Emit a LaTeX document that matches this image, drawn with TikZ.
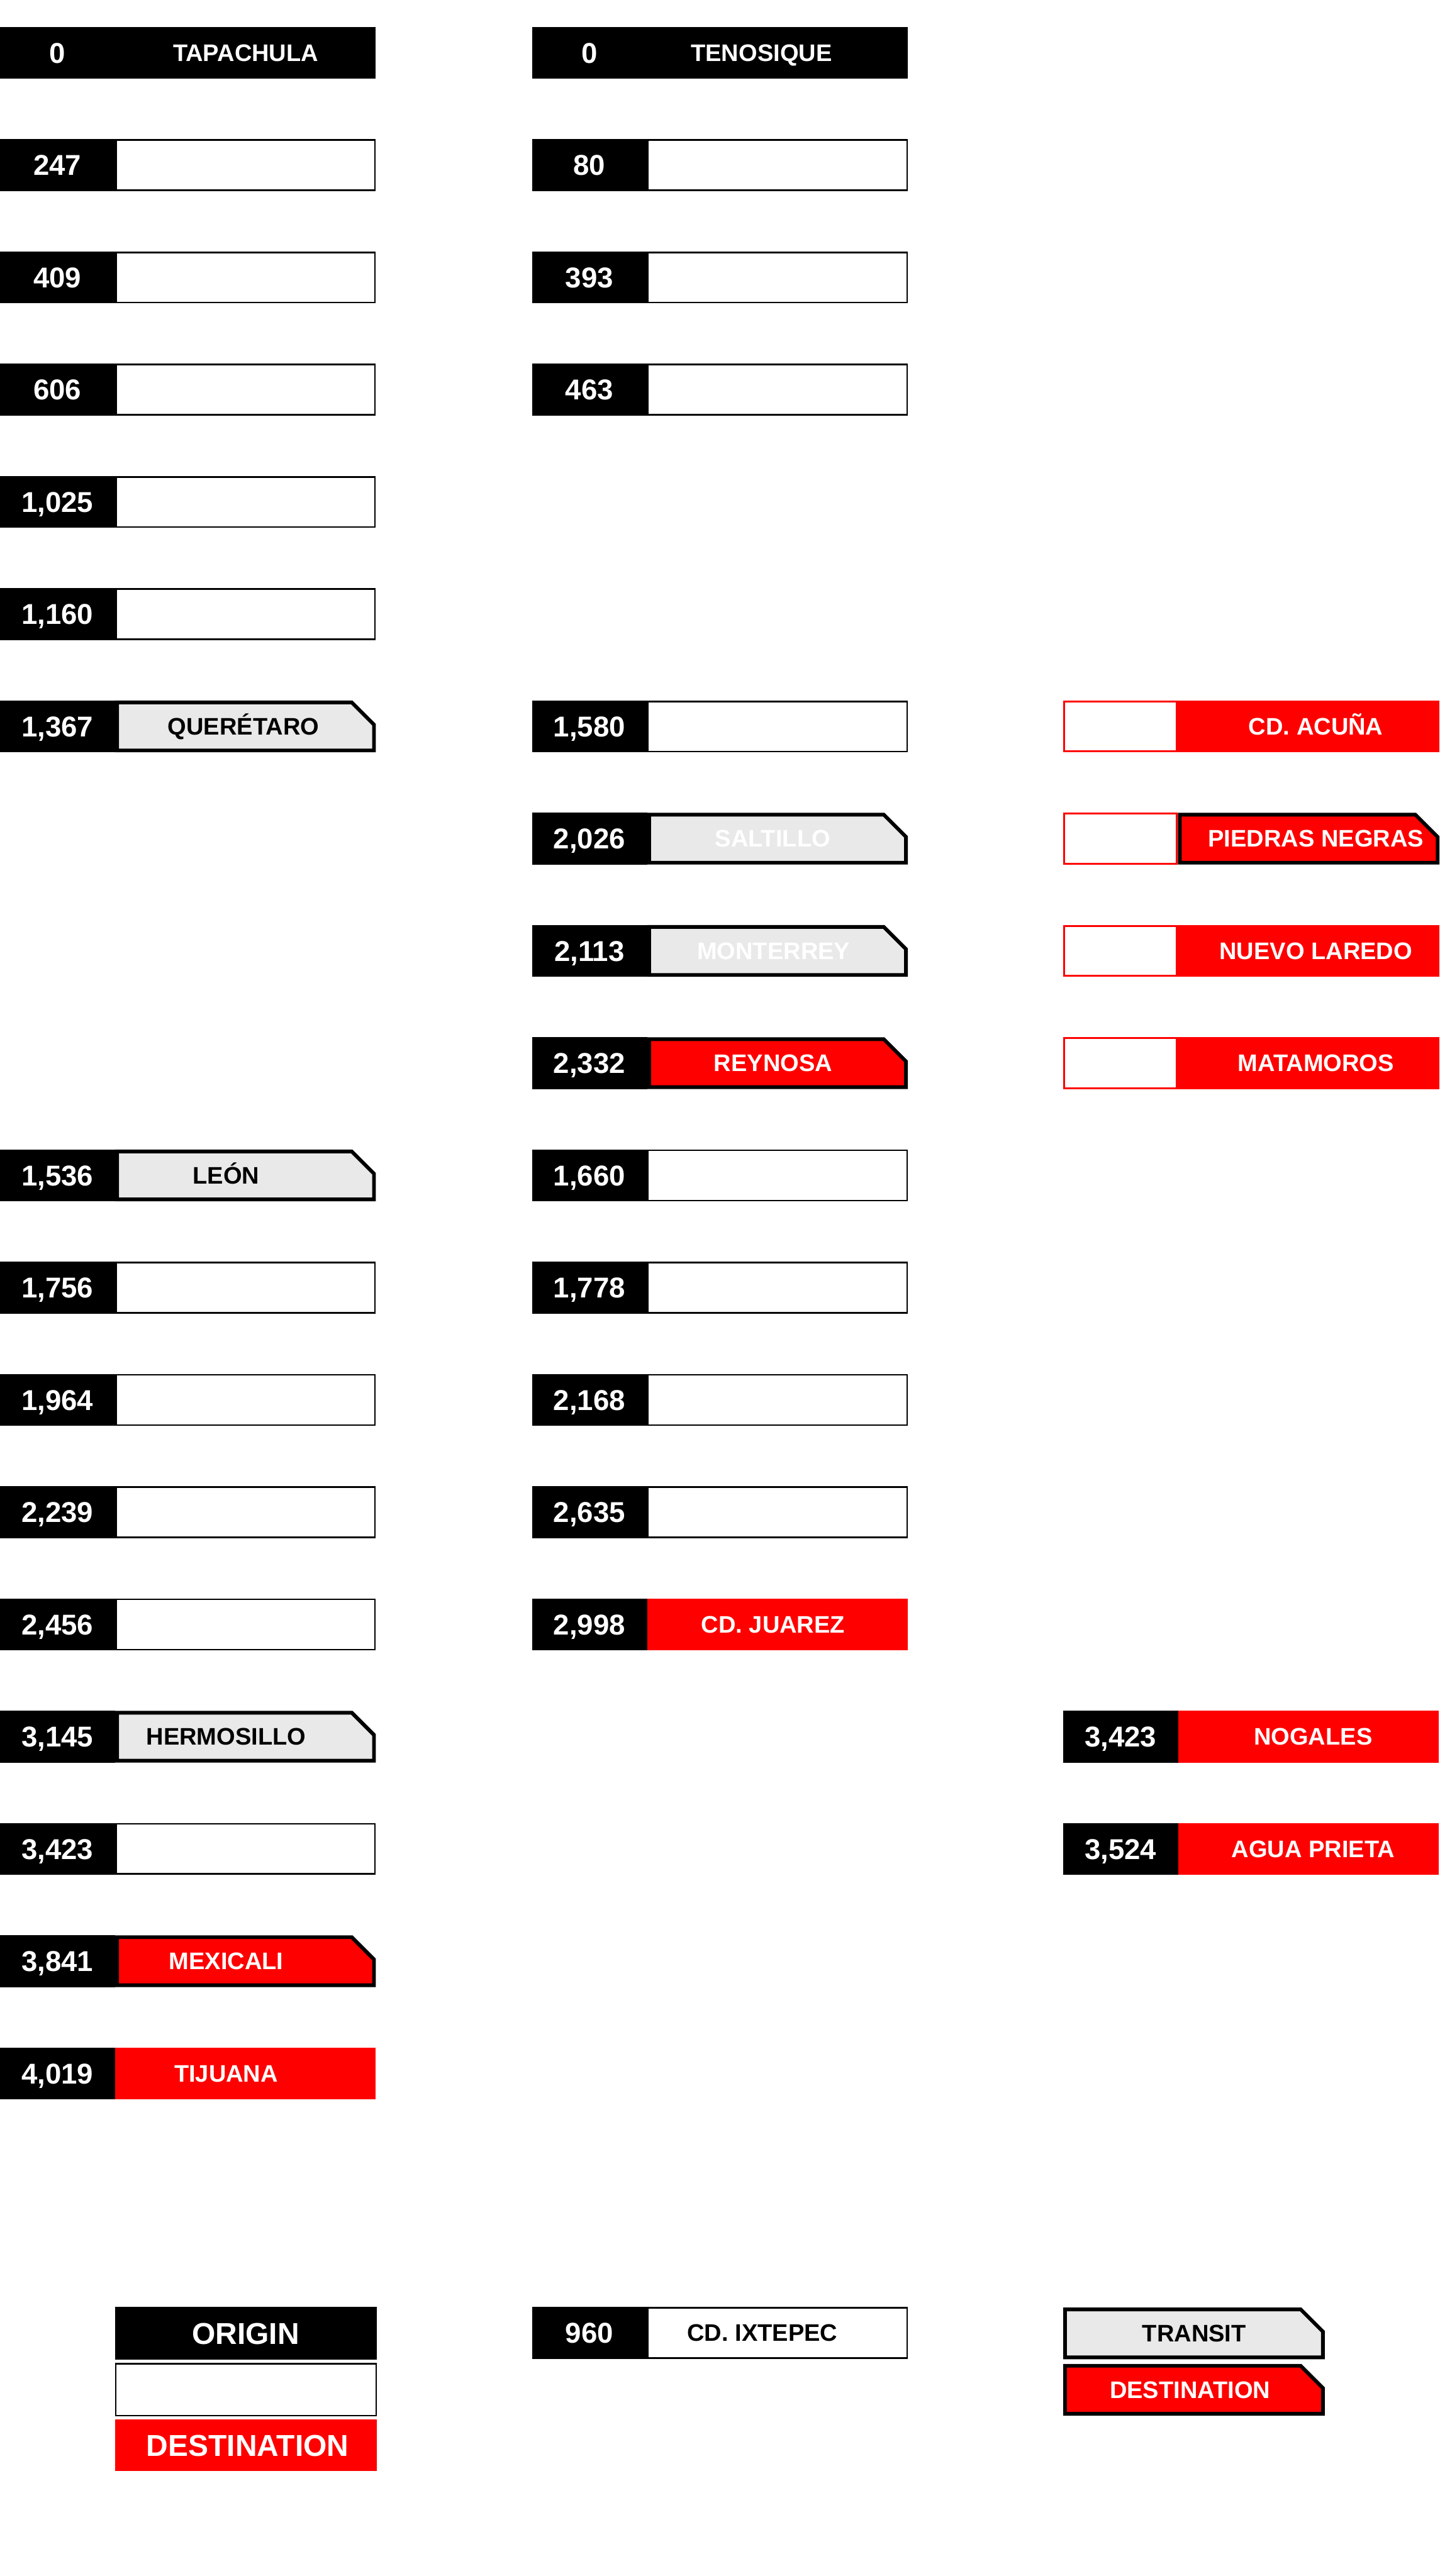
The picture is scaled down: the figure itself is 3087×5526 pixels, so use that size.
\documentclass[tikz,border=0pt]{standalone}
\usepackage{fontspec}
\setmainfont{Liberation Sans}
\definecolor{dred}{HTML}{FF0000}
\definecolor{tgray}{HTML}{E9E9E9}
\newcommand{\fnum}{\bfseries\fontsize{17.5}{18}\selectfont}
\newcommand{\fname}{\bfseries\fontsize{14.6}{15}\selectfont}
\newcommand{\fleg}{\bfseries\fontsize{18.4}{19}\selectfont}
\tikzset{
  numtxt/.style={text=white, font=\fnum, anchor=base, inner sep=0pt},
  nametxt/.style={font=\fname, anchor=base, inner sep=0pt},
  legtxt/.style={font=\fleg, anchor=base, inner sep=0pt},
  thinbox/.style={draw=black, fill=white, line width=0.035cm},
}
% row geometry
\newcommand{\settop}[1]{\pgfmathsetmacro{\rtop}{#1}\pgfmathsetmacro{\rbot}{\rtop+111}%
  \pgfmathsetmacro{\rnb}{\rtop+55.5+22}\pgfmathsetmacro{\rtb}{\rtop+55.5+18}}
\newcommand{\rowy}[1]{\settop{58+240.8*#1}}
\newcommand{\numbox}[3]{%
  \fill[black] (#1,\rtop) rectangle ({#1+247},\rbot);
  \node[numtxt] (#3n) at ({#1+123},\rnb) {#2};}
\newcommand{\plainname}[1]{%
  \draw[thinbox] ({#1+247+1.75},{\rtop+1.75}) rectangle ({#1+806-1.75},{\rbot-1.75});}
\newcommand{\tshape}[4]{%
  \filldraw[fill=#4, draw=black, line width=0.08cm, line join=miter]
    ({#1+4},{#3+4}) -- ({#2-51.66},{#3+4}) -- ({#2-4},{#3+51.66}) --
    ({#2-4},{#3+107}) -- ({#1+4},{#3+107}) -- cycle;}
\newcommand{\OriginRow}[6]{\rowy{#2}%
  \fill[black] (#1,\rtop) rectangle ({#1+806},\rbot);
  \node[numtxt] (#6n) at ({#1+123},\rnb) {#3};
  \node[nametxt, text=white] (#6c) at (#5,\rtb) {#4};}
\newcommand{\PlainRow}[4]{\rowy{#2}\numbox{#1}{#3}{#4}\plainname{#1}}
\newcommand{\TransitRow}[8]{\rowy{#2}\numbox{#1}{#3}{#8}%
  \tshape{#1+247}{#1+806}{\rtop}{#6}
  \node[nametxt, text=#7] (#8c) at (#5,\rtb) {#4};}
\newcommand{\DestRow}[6]{\rowy{#2}\numbox{#1}{#3}{#6}%
  \fill[dred] ({#1+247},\rtop) rectangle ({#1+806},\rbot);
  \node[nametxt, text=white] (#6c) at (#5,\rtb) {#4};}
\newcommand{\BorderRow}[3]{\rowy{#1}%
  \draw[dred, line width=0.04cm] (2282,{\rtop+2}) rectangle (2524,{\rbot-2});
  \fill[dred] (2526,\rtop) rectangle (3087,\rbot);
  \node[nametxt, text=white] (#3c) at (2822,\rtb) {#2};}
\newcommand{\BorderTransitRow}[3]{\rowy{#1}%
  \draw[dred, line width=0.04cm] (2282,{\rtop+2}) rectangle (2524,{\rbot-2});
  \tshape{2526}{3087}{\rtop}{dred}
  \node[nametxt, text=white] (#3c) at (2822,\rtb) {#2};}
\begin{document}
\begin{tikzpicture}[x=0.01cm, y=-0.01cm]
\useasboundingbox (0,0) rectangle (3087,5526);
\fill[white] (0,0) rectangle (3087,5526);
% ---------------- left column
\OriginRow{0}{0}{0}{TAPACHULA}{527}{L0}
\PlainRow{0}{1}{247}{L1}
\PlainRow{0}{2}{409}{L2}
\PlainRow{0}{3}{606}{L3}
\PlainRow{0}{4}{1,025}{L4}
\PlainRow{0}{5}{1,160}{L5}
\TransitRow{0}{6}{1,367}{QUERÉTARO}{522}{tgray}{black}{L6}
\TransitRow{0}{10}{1,536}{LEÓN}{485}{tgray}{black}{L10}
\PlainRow{0}{11}{1,756}{L11}
\PlainRow{0}{12}{1,964}{L12}
\PlainRow{0}{13}{2,239}{L13}
\PlainRow{0}{14}{2,456}{L14}
\TransitRow{0}{15}{3,145}{HERMOSILLO}{485}{tgray}{black}{L15}
\PlainRow{0}{16}{3,423}{L16}
\TransitRow{0}{17}{3,841}{MEXICALI}{485}{dred}{white}{L17}
\DestRow{0}{18}{4,019}{TIJUANA}{485}{L18}
% ---------------- middle column
\OriginRow{1141}{0}{0}{TENOSIQUE}{1633}{M0}
\PlainRow{1141}{1}{80}{M1}
\PlainRow{1141}{2}{393}{M2}
\PlainRow{1141}{3}{463}{M3}
\PlainRow{1141}{6}{1,580}{M6}
\TransitRow{1141}{7}{2,026}{SALTILLO}{1657}{tgray}{white}{M7}
\TransitRow{1141}{8}{2,113}{MONTERREY}{1659}{tgray}{white}{M8}
\TransitRow{1141}{9}{2,332}{REYNOSA}{1658}{dred}{white}{M9}
\PlainRow{1141}{10}{1,660}{M10}
\PlainRow{1141}{11}{1,778}{M11}
\PlainRow{1141}{12}{2,168}{M12}
\PlainRow{1141}{13}{2,635}{M13}
\DestRow{1141}{14}{2,998}{CD. JUAREZ}{1658}{M14}
% ---------------- right column
\BorderRow{6}{CD. ACUÑA}{R6}
\BorderTransitRow{7}{PIEDRAS NEGRAS}{R7}
\BorderRow{8}{NUEVO LAREDO}{R8}
\BorderRow{9}{MATAMOROS}{R9}
\DestRow{2280}{15}{3,423}{NOGALES}{2816}{R15}
\DestRow{2280}{16}{3,524}{AGUA PRIETA}{2816}{R16}
% ---------------- legend left
\fill[black] (247,4949) rectangle (808,5062);
\node[legtxt, text=white] (lgO) at (527,{5005.5+23}) {ORIGIN};
\draw[black, line width=0.03cm] (248.5,5070.5) rectangle (806.5,5181.5);
\fill[dred] (247,5190) rectangle (808,5301);
\node[legtxt, text=white] (lgD) at (531,{5245.5+23}) {DESTINATION};
% ---------------- legend middle
\settop{4949}
\numbox{1141}{960}{ix}
\plainname{1141}
\node[nametxt, text=black] (ixc) at (1635,\rtb) {CD. IXTEPEC};
% ---------------- legend right
\settop{4950}
\tshape{2280}{2841}{\rtop}{tgray}
\node[nametxt, text=black] (lgT) at (2561,\rtb) {TRANSIT};
\settop{5071}
\tshape{2280}{2841}{\rtop}{dred}
\node[nametxt, text=white] (lgD2) at (2552,\rtb) {DESTINATION};
\end{tikzpicture}
\end{document}
